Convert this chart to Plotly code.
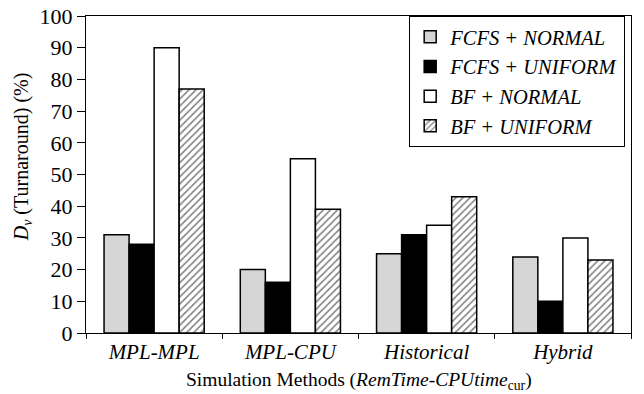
import plotly.graph_objects as go

categories = ["MPL-MPL", "MPL-CPU", "Historical", "Hybrid"]
series_names = ["FCFS + NORMAL", "FCFS + UNIFORM", "BF + NORMAL", "BF + UNIFORM"]
fcfs_normal = [31, 20, 25, 24]
fcfs_uniform = [28, 16, 31, 10]
bf_normal = [90, 55, 34, 30]
bf_uniform = [77, 39, 43, 23]
y_ticks = [0, 10, 20, 30, 40, 50, 60, 70, 80, 90, 100]

series_values = [fcfs_normal, fcfs_uniform, bf_normal, bf_uniform]
styles = [
    dict(color="white", pattern=dict(shape=".", fgcolor="#6e6e6e", bgcolor="#e2e2e2", size=2, solidity=0.3)),
    dict(color="black"),
    dict(color="white"),
    dict(color="white", pattern=dict(shape="/", fgcolor="black", bgcolor="white", size=5, solidity=0.3)),
]

fig = go.Figure()
for name, vals, st in zip(series_names, series_values, styles):
    marker = dict(color=st["color"], line=dict(color="black", width=1.5))
    if "pattern" in st:
        marker["pattern"] = st["pattern"]
    fig.add_trace(go.Bar(
        x=[f"<i>{c}</i>" for c in categories], y=vals, name=f"<i>{name}</i>",
        marker=marker,
    ))

font_family = "Liberation Serif"
# page has an 8px body margin, so the figure is sized 8px smaller in each direction
fig.update_layout(
    width=636, height=386,
    margin=dict(l=78, r=13, t=8, b=61),
    paper_bgcolor="white", plot_bgcolor="white",
    barmode="group", bargap=0.265, bargroupgap=0,
    font=dict(family=font_family, color="black", size=20),
    legend=dict(
        x=0.593, y=1.0, xanchor="left", yanchor="top",
        bordercolor="black", borderwidth=1, bgcolor="white",
        font=dict(size=20.5, family=font_family), tracegroupgap=0,
        itemwidth=30,
    ),
    showlegend=True,
    annotations=[
        dict(text="<i>D<sub>v</sub></i> (Turnaround) (%)", xref="paper", yref="paper",
             x=-0.117, y=0.555, xanchor="center", yanchor="middle", textangle=-90,
             showarrow=False, font=dict(size=20, family=font_family)),
        dict(text="Simulation Methods (<i>RemTime</i>-<i>CPUtime</i><sub>cur</sub>)", xref="paper", yref="paper",
             x=0.5, y=-0.151, xanchor="center", yanchor="middle",
             showarrow=False, font=dict(size=19.5, family=font_family)),
    ],
)
fig.update_xaxes(
    showline=True, linecolor="black", linewidth=1, mirror=True,
    ticks="outside", tickson="boundaries", ticklen=5, tickcolor="black",
    tickfont=dict(size=21), automargin=False, ticklabeloverflow="allow",
    showgrid=False,
)
fig.update_yaxes(
    range=[0, 100], tickvals=y_ticks,
    showline=True, linecolor="black", linewidth=1, mirror=True,
    ticks="outside", ticklen=8, tickcolor="black",
    tickfont=dict(size=22), automargin=False, ticklabeloverflow="allow",
    showgrid=False, zeroline=False,
)

fig.write_html("out.html")
